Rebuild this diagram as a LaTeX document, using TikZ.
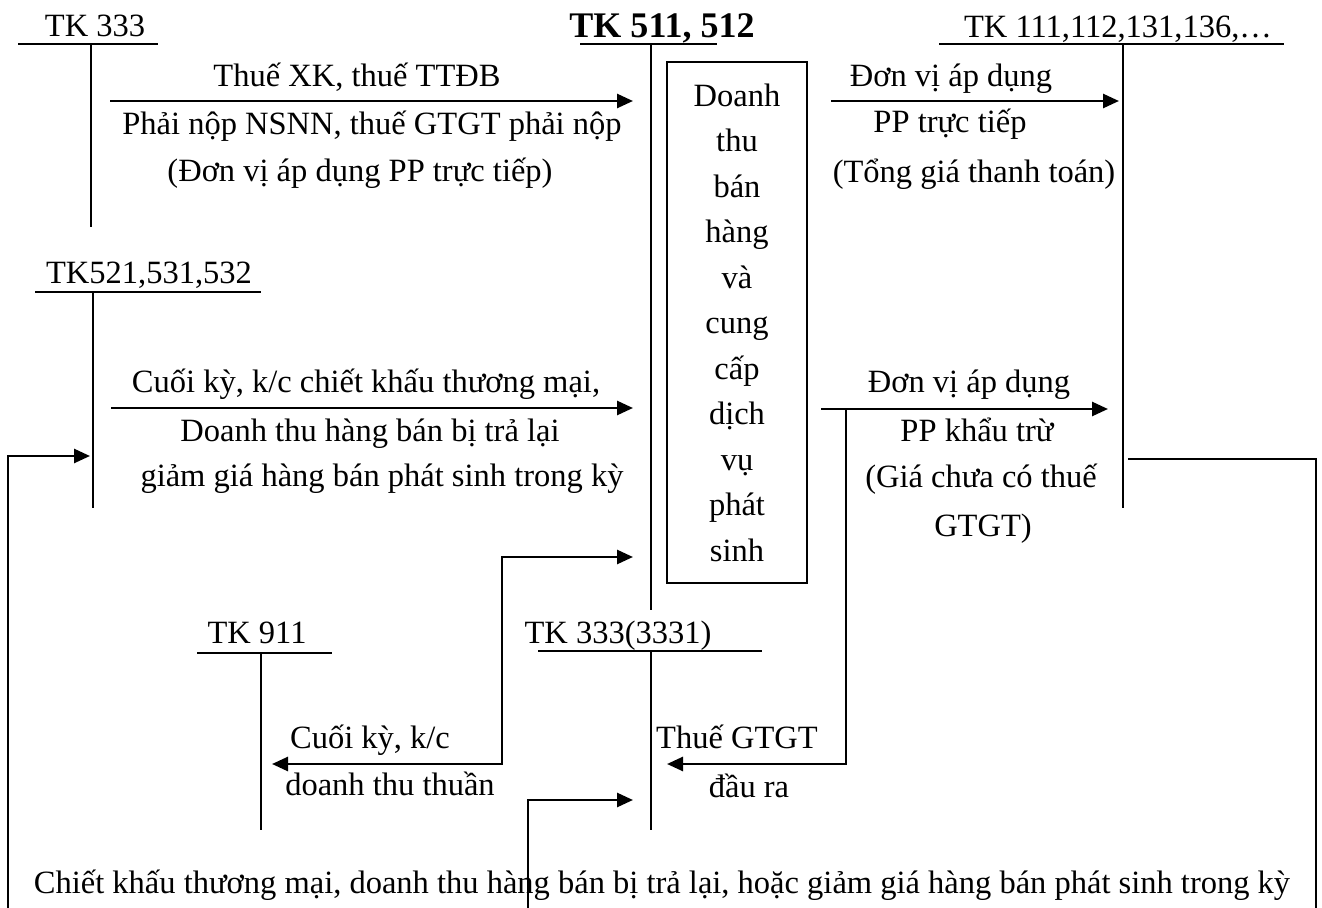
\documentclass[tikz,border=0pt]{standalone}
\usepackage{fontspec}
\setmainfont{Liberation Serif}
\usetikzlibrary{arrows.meta}
\tikzset{
	tk/.style={line width=1.15pt},
	mui/.style={line width=1.5pt, -{Triangle[length=0.32cm,width=0.28cm]}},
	haimui/.style={line width=1.5pt, {Triangle[length=0.32cm,width=0.28cm]}-{Triangle[length=0.32cm,width=0.28cm]}},
	noi/.style={line width=1.5pt},
	chu/.style={font=\fontsize{18.5pt}{26pt}\selectfont, inner sep=0pt, anchor=base},
	hop/.style={draw, line width=1.15pt, minimum width=2.8cm, minimum height=10.42cm, inner sep=0pt, align=center, font=\fontsize{18.5pt}{25.9pt}\selectfont}
}
\newcommand{\chuT}[6]{\coordinate (#1-trai) at (#4,#3);
					\coordinate (#1-phai) at (#5,#3);
					\coordinate (#1-goc) at (#2,#3);
					\coordinate (#1-day) at (#2,#6);
					\draw[tk] (#1-trai) -- (#1-phai);
					\draw[tk] (#1-goc) -- (#1-day);}

\begin{document}
\begin{tikzpicture}[x=0.02cm, y=-0.02cm]
					\useasboundingbox (0,0) rectangle (1322,908);

					\node[chu] (ten333) at (95,37) {TK 333};
					\chuT{t333}{91}{44}{18}{158}{227}

					\node[chu, font=\fontsize{20.5pt}{26pt}\selectfont\bfseries] (ten511) at (662,38) {TK 511, 512};
					\chuT{t511}{651}{44}{580}{717}{610}

					\node[chu] (ten111) at (1118,38) {TK 111,112,131,136,…};
					\chuT{t111}{1123}{44}{939}{1284}{508}

					\node[chu] (ten521) at (149,284) {TK521,531,532};
					\chuT{t521}{93}{292}{35}{261}{508}

					\node[chu] (ten911) at (257,643) {TK 911};
					\chuT{t911}{261}{653}{197}{332}{830}

					\node[chu] (ten3331) at (618,643) {TK 333(3331)};
					\chuT{t3331}{651}{651}{538}{762}{830}

					\node[hop] (doanhthu) at (737,322.5) {Doanh\\thu\\bán\\hàng\\và\\cung\\cấp\\dịch\\vụ\\phát\\sinh};

					\coordinate (a1s) at (110,101);
					\coordinate (a1e) at (633,101);
					\draw[mui] (a1s) -- (a1e);
					\node[chu] (a1t1) at (357,87) {Thuế XK, thuế TTĐB};
					\node[chu] (a1t2) at (372,135) {Phải nộp NSNN, thuế GTGT phải nộp};
					\node[chu] (a1t3) at (360,182) {(Đơn vị áp dụng PP trực tiếp)};

					\coordinate (a2s) at (831,101);
					\coordinate (a2e) at (1119,101);
					\draw[mui] (a2s) -- (a2e);
					\node[chu] (a2t1) at (951,87) {Đơn vị áp dụng};
					\node[chu] (a2t2) at (950,133) {PP trực tiếp};
					\node[chu] (a2t3) at (974,183) {(Tổng giá thanh toán)};

					\coordinate (a3s) at (111,408);
					\coordinate (a3e) at (633,408);
					\draw[mui] (a3s) -- (a3e);
					\node[chu] (a3t1) at (366,393) {Cuối kỳ, k/c chiết khấu thương mại,};
					\node[chu] (a3t2) at (370,442) {Doanh thu hàng bán bị trả lại};
					\node[chu] (a3t3) at (382,487) {giảm giá hàng bán phát sinh trong kỳ};

					\coordinate (a4s) at (8,908);
					\coordinate (a4e) at (90,456);
					\draw[mui] (a4s) |- (a4e);

					\coordinate (a5s) at (821,409);
					\coordinate (a5e) at (1108,409);
					\draw[mui] (a5s) -- (a5e);
					\node[chu] (a5t1) at (969,393) {Đơn vị áp dụng};
					\node[chu] (a5t2) at (977,442) {PP khẩu trừ};
					\node[chu] (a5t3) at (981,488) {(Giá chưa có thuế};
					\node[chu] (a5t4) at (983,537) {GTGT)};

					\coordinate (a6s) at (846,409);
					\coordinate (a6e) at (667,764);
					\draw[mui] (a6s) |- (a6e);
					\node[chu] (a6t1) at (737,748) {Thuế GTGT};
					\node[chu] (a6t2) at (749,797) {đầu ra};

					\coordinate (a7s) at (272,764);
					\coordinate (a7g) at (502,557);
					\coordinate (a7e) at (633,557);
					\draw[haimui] (a7s) -| (a7g) -- (a7e);
					\node[chu] (a7t1) at (370,748) {Cuối kỳ, k/c};
					\node[chu] (a7t2) at (390,795) {doanh thu thuần};

					\coordinate (a8s) at (528,908);
					\coordinate (a8e) at (633,800);
					\draw[mui] (a8s) |- (a8e);

					\coordinate (a9s) at (1128,459);
					\coordinate (a9e) at (1316,908);
					\draw[noi] (a9s) -| (a9e);

					\node[chu] (chuthich) at (662,893) {Chiết khấu thương mại, doanh thu hàng bán bị trả lại, hoặc giảm giá hàng bán phát sinh trong kỳ};

\end{tikzpicture}
\end{document}
